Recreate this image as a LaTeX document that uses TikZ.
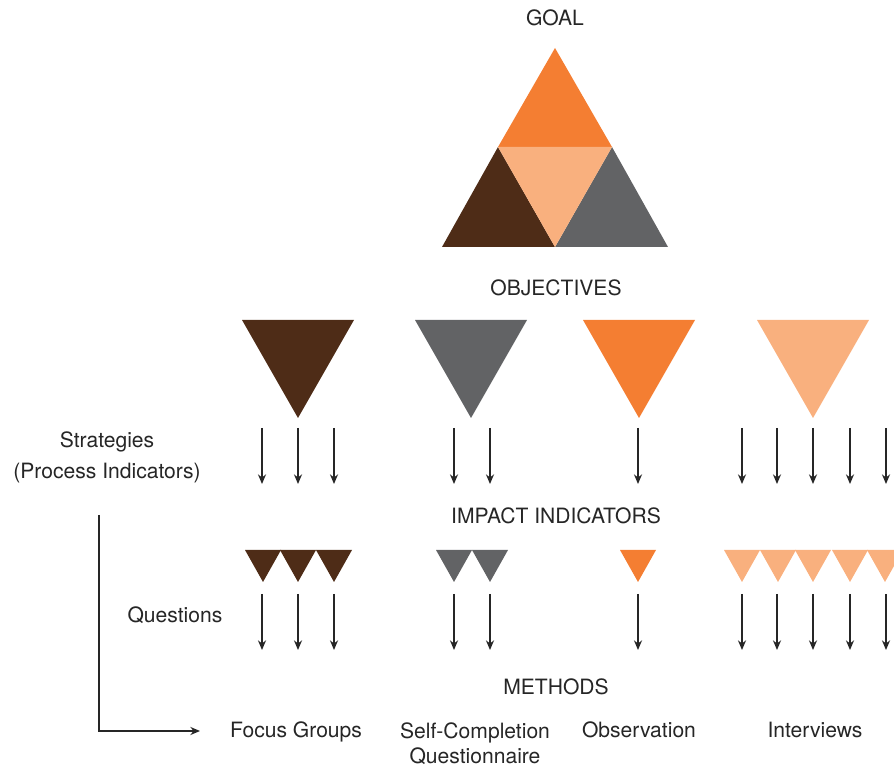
\documentclass[tikz,border=0pt]{standalone}
\usepackage{fontspec}
\setmainfont{TeX Gyre Heros}
\usetikzlibrary{arrows.meta}
\definecolor{marron}{HTML}{4E2C17}
\definecolor{gris}{HTML}{626365}
\definecolor{naranja}{HTML}{F47E32}
\definecolor{salmon}{HTML}{F9B07E}
\begin{document}
\begin{tikzpicture}[x=0.02cm, y=-0.02cm, font=\fontsize{12}{14.7}\selectfont,
  flecha/.style={-{Stealth[length=5.5pt,width=4.6pt]}, line width=0.7pt, black!85},
  rotulo/.style={inner sep=0pt, anchor=base, text=black!85}]
  \clip (0,0) rectangle (894,770);
  % la meta: el triangulo grande partido en cuatro
  \node[rotulo] (goal) at (555,26) {GOAL};
  \fill[naranja] (555,48) -- (612,147) -- (498,147) -- cycle;
  \fill[marron] (498,147) -- (555,247) -- (442,247) -- cycle;
  \fill[gris] (612,147) -- (668,247) -- (555,247) -- cycle;
  \fill[salmon] (498,147) -- (612,147) -- (555,247) -- cycle;
  % los objetivos
  \node[rotulo] (objectives) at (556,296) {OBJECTIVES};
  \foreach \x/\c in {298/marron, 471/gris, 639/naranja, 813/salmon} {
    \fill[\c] (\x-56,320) -- (\x+56,320) -- (\x,418) -- cycle;
  }
  % las estrategias (la base del nodo es la de su ultima linea)
  \node[rotulo, align=center, font=\fontsize{12}{18.1}\selectfont] (strategies) at (107,479)
    {Strategies\\(Process Indicators)};
  \foreach \x in {262,298,334,454,490,638,742,777,813,850,886} {
    \draw[flecha] (\x,428) -- (\x,484);
  }
  % los indicadores de impacto
  \node[rotulo] (impact) at (556,524) {IMPACT INDICATORS};
  \foreach \x/\c in {263/marron, 298/marron, 334/marron, 454/gris, 490/gris,
                     638/naranja, 742/salmon, 778/salmon, 813/salmon, 850/salmon, 885/salmon} {
    \fill[\c] (\x-18,550) -- (\x+18,550) -- (\x,582) -- cycle;
  }
  % las preguntas
  \node[rotulo] (questions) at (175,623) {Questions};
  \foreach \x in {262,298,334,454,490,638,742,777,813,850,886} {
    \draw[flecha] (\x,594) -- (\x,650);
  }
  % los metodos
  \node[rotulo] (methods) at (556,695) {METHODS};
  \node[rotulo] (focus) at (296,738) {Focus Groups};
  \node[rotulo, align=center] (selfcomp) at (475,764) {Self-Completion\\Questionnaire};
  \node[rotulo] (observation) at (639,738) {Observation};
  \node[rotulo] (interviews) at (815,738) {Interviews};
  % la flecha en escuadra hacia los metodos
  \coordinate (arranque) at (99,515);
  \coordinate (esquina) at (99,731);
  \coordinate (punta) at (200,731);
  \draw[flecha] (arranque) -- (esquina) -- (punta);
\end{tikzpicture}
\end{document}
